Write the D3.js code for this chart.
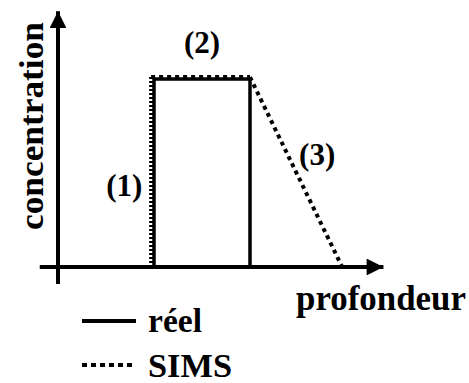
<!DOCTYPE html>
<html lang="fr">
<head>
  <meta charset="UTF-8">
  <title>Profil SIMS</title>
  <script src="https://cdn.jsdelivr.net/npm/d3@7"></script>
  <style>
    body { margin: 0; padding: 0; background: #fff; }
  </style>
</head>
<body>
<div id="chart"></div>

<script>
  // profil réel (créneau) et profil mesuré SIMS : [profondeur, concentration]
  const reelPoints = [[1.0, 0], [1.0, 1.0], [2.0, 1.0], [2.0, 0]];
  const simsPoints = [[0.97, 0], [0.97, 1.01], [2.0, 1.01], [2.96, 0]];
  const simsDash = ["2,2", "4,4", "4,4"];
  const zoneLabels = ["(1)", "(2)", "(3)"];
  const zonePos = [[0.69, 0.38], [1.5, 1.14], [2.7, 0.54]];
  const legendNames = ["réel", "SIMS"];

  const width = 469, height = 383;

  const x = d3.scaleLinear().domain([0, 1]).range([58, 154]);
  const y = d3.scaleLinear().domain([0, 1]).range([267, 79]);

  const svg = d3.select("#chart").append("svg")
    .attr("width", width)
    .attr("height", height)
    .style("font-family", "'Liberation Serif', 'Times New Roman', serif")
    .style("font-weight", "700")
    .style("display", "block");

  svg.append("defs").append("marker")
    .attr("id", "arrow")
    .attr("viewBox", "0 0 10 10")
    .attr("refX", 10).attr("refY", 5)
    .attr("markerWidth", 4.6).attr("markerHeight", 4.2)
    .attr("markerUnits", "strokeWidth")
    .attr("orient", "auto")
    .append("path").attr("d", "M0,0L10,5L0,10Z").attr("fill", "#000");

  // axes
  svg.append("line")
    .attr("x1", x(-0.19)).attr("x2", x(3.39))
    .attr("y1", y(0)).attr("y2", y(0))
    .attr("stroke", "#000").attr("stroke-width", 4)
    .attr("marker-end", "url(#arrow)");
  svg.append("line")
    .attr("x1", x(0)).attr("x2", x(0))
    .attr("y1", y(-0.09)).attr("y2", y(1.36))
    .attr("stroke", "#000").attr("stroke-width", 4)
    .attr("marker-end", "url(#arrow)");

  const line = d3.line().x(d => x(d[0])).y(d => y(d[1]));

  svg.append("path")
    .attr("d", line(reelPoints))
    .attr("fill", "none").attr("stroke", "#000").attr("stroke-width", 3.5);

  // profil SIMS, segment par segment
  svg.selectAll(".sims")
    .data(d3.pairs(simsPoints))
    .join("path")
    .attr("class", "sims")
    .attr("d", d => line(d))
    .attr("fill", "none").attr("stroke", "#000").attr("stroke-width", 4)
    .attr("stroke-dasharray", (d, i) => simsDash[i]);

  // titres des axes
  svg.append("text")
    .attr("transform", "translate(43,126) rotate(-90)")
    .attr("text-anchor", "middle")
    .attr("font-size", 34)
    .attr("textLength", 208).attr("lengthAdjust", "spacingAndGlyphs")
    .text("concentration");

  svg.append("text")
    .attr("x", 296).attr("y", 310)
    .attr("font-size", 35)
    .attr("textLength", 170).attr("lengthAdjust", "spacingAndGlyphs")
    .text("profondeur");

  // repères des zones
  svg.selectAll(".zone")
    .data(zoneLabels)
    .join("text")
    .attr("class", "zone")
    .attr("x", (d, i) => x(zonePos[i][0]))
    .attr("y", (d, i) => y(zonePos[i][1]))
    .attr("text-anchor", "middle")
    .attr("font-size", 31)
    .text(d => d);

  // légende
  const leg = svg.selectAll(".leg")
    .data(legendNames)
    .join("g")
    .attr("class", "leg")
    .attr("transform", (d, i) => `translate(82,${321 + i * 44})`);

  leg.append("line")
    .attr("x1", 0).attr("x2", 54)
    .attr("stroke", "#000").attr("stroke-width", 4)
    .attr("stroke-dasharray", (d, i) => i ? "5,4" : null);

  leg.append("text")
    .attr("x", 66).attr("y", (d, i) => i ? 12 : 11)
    .attr("font-size", 34)
    .attr("textLength", (d, i) => i ? 84 : 54)
    .attr("lengthAdjust", "spacingAndGlyphs")
    .text(d => d);
</script>
</body>
</html>
